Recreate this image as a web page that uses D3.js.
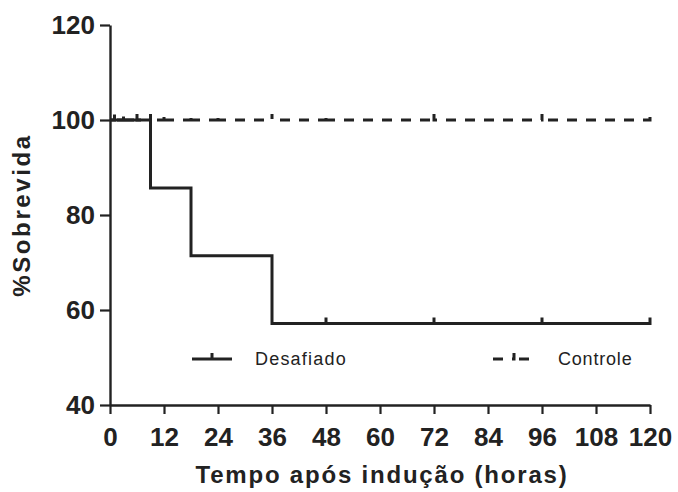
<!DOCTYPE html>
<html>
<head>
<meta charset="utf-8">
<script src="https://cdn.jsdelivr.net/npm/d3@7"></script>
<style>
  html, body { margin: 0; padding: 0; background: #fff; }
  svg { display: block; }
  text { font-family: "Liberation Sans", Arial, sans-serif; fill: #222; }
</style>
</head>
<body>
<svg id="chart" width="678" height="492"></svg>
<script>
// Kaplan-Meier survival data (hours after induction, % survival)
const desafiadoTimes = [0, 9, 18, 36, 120];
const desafiadoSurv  = [100, 85.71, 71.43, 57.14, 57.14];
const desafiadoCensor = [48, 72, 96, 120];

const controleTimes = [0, 120];
const controleSurv  = [100, 100];
const controleCensor = [1, 3, 6, 9, 12, 18, 24, 36, 48, 72, 96, 120];

const xTicks = [0, 12, 24, 36, 48, 60, 72, 84, 96, 108, 120];
const yTicks = [40, 60, 80, 100, 120];

const seriesNames = ["Desafiado", "Controle"];
const xTitle = "Tempo após indução (horas)";
const yTitle = "%Sobrevida";

const ink = "#222";
const svg = d3.select("#chart");
const x = d3.scaleLinear().domain([0, 120]).range([110, 650]);
const y = d3.scaleLinear().domain([40, 120]).range([405, 25]);
const tickLen = 6;

// step-function points for a survival curve, with upward censor ticks woven in
function stepPoints(times, surv, censor) {
  const pts = [];
  const valueAt = t => {
    let v = surv[0];
    for (let i = 0; i < times.length; i++) if (times[i] <= t) v = surv[i];
    return v;
  };
  const events = [];
  for (let i = 0; i < times.length; i++) events.push({t: times[i], kind: "step", v: surv[i]});
  censor.forEach(t => events.push({t, kind: "censor"}));
  events.sort((a, b) => a.t - b.t || (a.kind === "step" ? -1 : 1));
  let cur = surv[0];
  pts.push([x(times[0]), y(cur)]);
  events.forEach(e => {
    if (e.kind === "step") {
      pts.push([x(e.t), y(cur)]);
      cur = e.v;
      pts.push([x(e.t), y(cur)]);
    } else {
      const v = valueAt(e.t);
      pts.push([x(e.t), y(v)]);
      pts.push([x(e.t), y(v) - tickLen]);
      pts.push([x(e.t), y(v)]);
    }
  });
  return pts;
}

const line = d3.line();

// Axes
const gx = svg.append("g").attr("transform", `translate(0,${y(40)})`)
  .call(d3.axisBottom(x).tickValues(xTicks).tickSize(9).tickSizeOuter(0).tickPadding(12).tickFormat(d3.format("d")));
const gy = svg.append("g").attr("transform", `translate(${x(0)},0)`)
  .call(d3.axisLeft(y).tickValues(yTicks).tickSize(10).tickSizeOuter(0).tickPadding(5).tickFormat(d3.format("d")));
[gx, gy].forEach(g => {
  g.select(".domain").attr("stroke", ink).attr("stroke-width", 2.4);
  g.selectAll(".tick line").attr("stroke", ink).attr("stroke-width", 2.2);
  g.selectAll(".tick text").attr("fill", ink)
    .style("font-size", "26px").style("font-weight", "bold")
    .style("font-family", "'Liberation Sans', Arial, sans-serif");
});
gx.selectAll(".tick text").attr("dy", "0.75em");

// Curves
svg.append("path")
  .attr("d", line(stepPoints(controleTimes, controleSurv, controleCensor)))
  .attr("fill", "none").attr("stroke", ink).attr("stroke-width", 3)
  .attr("stroke-dasharray", "10,9");

svg.append("path")
  .attr("d", line(stepPoints(desafiadoTimes, desafiadoSurv, desafiadoCensor)))
  .attr("fill", "none").attr("stroke", ink).attr("stroke-width", 3);

// Legend
const legY = 359;
const legSolid = [[192, legY], [212, legY], [212, legY - tickLen], [212, legY], [232, legY]];
svg.append("path").attr("d", line(legSolid)).attr("fill", "none")
  .attr("stroke", ink).attr("stroke-width", 3);
svg.append("text").attr("x", 255).attr("y", legY + 6).text(seriesNames[0])
  .style("font-size", "18px").style("letter-spacing", "1.2px");

const legDash = [[493, legY], [514, legY], [514, legY - tickLen], [514, legY], [536, legY]];
svg.append("path").attr("d", line(legDash)).attr("fill", "none")
  .attr("stroke", ink).attr("stroke-width", 3).attr("stroke-dasharray", "10,9");
svg.append("text").attr("x", 558).attr("y", legY + 6).text(seriesNames[1])
  .style("font-size", "18px").style("letter-spacing", "0.8px");

// Axis titles
svg.append("text").attr("x", 382).attr("y", 483).attr("text-anchor", "middle")
  .style("font-size", "24px").style("font-weight", "bold").style("letter-spacing", "1.8px")
  .text(xTitle);
svg.append("text").attr("transform", `translate(30,${y(80)}) rotate(-90)`)
  .attr("text-anchor", "middle")
  .style("font-size", "24px").style("font-weight", "bold").style("letter-spacing", "2.6px")
  .text(yTitle);
</script>
</body>
</html>
